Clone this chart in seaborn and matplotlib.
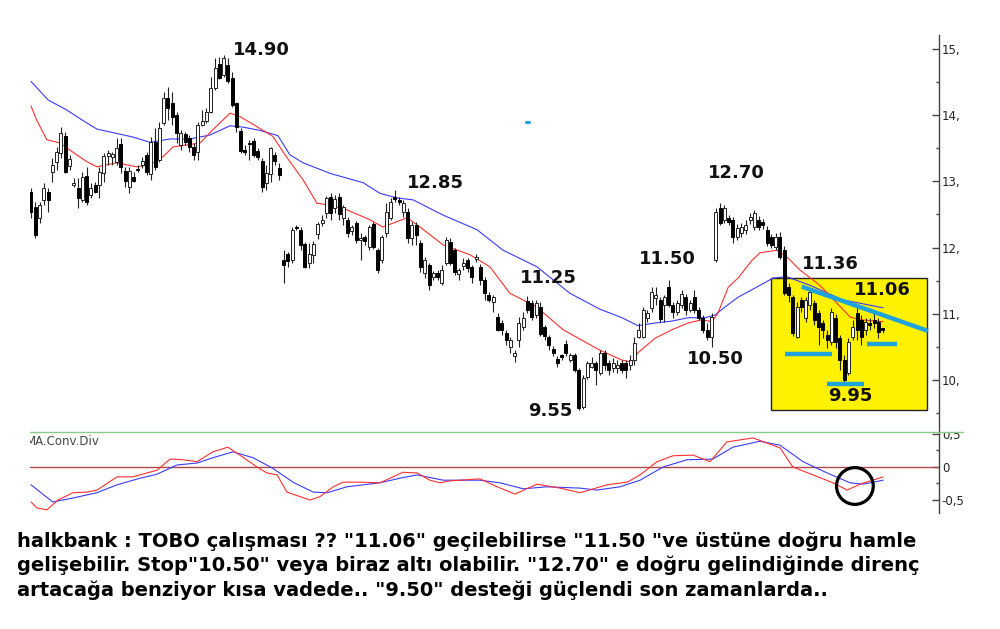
import matplotlib
matplotlib.use("Agg")
import matplotlib.pyplot as plt
from matplotlib.lines import Line2D
from matplotlib.patches import Rectangle
from matplotlib.transforms import Bbox, TransformedBbox
import numpy as np
import seaborn as sns

# daily candles (one value per session)
opens = [12.84, 12.62, 12.45, 12.72, 12.84, 13.14, 13.29, 13.43, 13.69, 13.23,
         12.95, 12.90, 12.72, 13.08, 12.79, 12.95, 12.95, 13.13, 13.38, 13.37,
         13.29, 13.56, 13.16, 12.92, 13.07, 13.18, 13.25, 13.40, 13.11, 13.59,
         13.32, 13.88, 14.26, 14.18, 14.00, 13.55, 13.72, 13.66, 13.52, 13.44,
         13.85, 13.91, 14.05, 14.41, 14.77, 14.61, 14.76, 14.56, 14.18, 13.76,
         13.47, 13.57, 13.61, 13.46, 13.31, 12.98, 13.11, 13.40, 13.20, 11.81,
         11.90, 11.81, 12.30, 12.27, 12.05, 11.77, 11.89, 12.21, 12.37, 12.52,
         12.76, 12.60, 12.76, 12.45, 12.42, 12.25, 12.37, 12.11, 12.16, 12.01,
         12.36, 11.96, 11.81, 12.22, 12.45, 12.75, 12.72, 12.54, 12.54, 12.14,
         12.34, 12.07, 11.62, 11.74, 11.56, 11.62, 11.47, 11.77, 12.08, 11.96,
         11.60, 11.72, 11.81, 11.71, 11.83, 11.71, 11.51, 11.28, 11.18, 10.95,
         10.86, 10.71, 10.50, 10.36, 10.60, 10.80, 11.19, 11.16, 10.98, 11.10,
         10.80, 10.65, 10.47, 10.32, 10.36, 10.54, 10.30, 10.38, 10.15, 9.59,
         10.05, 10.20, 10.26, 10.11, 10.41, 10.26, 10.18, 10.18, 10.26, 10.26,
         10.23, 10.30, 10.65, 10.65, 10.93, 11.09, 11.24, 11.21, 11.13, 11.40,
         11.13, 11.03, 11.13, 11.25, 11.06, 11.25, 11.06, 10.94, 10.76, 10.65,
         11.81, 12.60, 12.42, 12.45, 12.42, 12.16, 12.22, 12.27, 12.42, 12.31,
         12.42, 12.39, 12.27, 12.16, 12.01, 12.16, 11.96, 11.40, 11.25, 10.65,
         11.21, 10.94, 11.13, 11.16, 11.01, 10.86, 10.68, 10.57, 10.94, 10.63,
         10.30, 10.11, 10.65, 11.01, 10.91, 10.76, 10.86, 10.91, 10.88, 10.77]
highs = [12.90, 12.69, 12.69, 12.98, 12.90, 13.35, 13.52, 13.82, 13.75, 13.40,
         13.05, 13.05, 13.14, 13.22, 12.98, 12.99, 13.22, 13.43, 13.47, 13.44,
         13.66, 13.66, 13.22, 13.22, 13.14, 13.25, 13.37, 13.44, 13.67, 13.81,
         13.90, 14.35, 14.43, 14.35, 14.05, 13.78, 13.75, 13.70, 13.58, 13.90,
         14.08, 14.11, 14.58, 14.86, 14.88, 14.91, 14.86, 14.65, 14.20, 13.81,
         13.55, 13.63, 13.66, 13.50, 13.35, 13.25, 13.52, 13.44, 13.28, 11.96,
         11.93, 12.31, 12.34, 12.31, 12.08, 12.07, 12.10, 12.39, 12.49, 12.78,
         12.82, 12.79, 12.82, 12.64, 12.46, 12.34, 12.40, 12.22, 12.19, 12.34,
         12.39, 11.99, 12.19, 12.67, 12.75, 12.87, 12.76, 12.72, 12.60, 12.39,
         12.39, 12.11, 11.86, 11.77, 11.65, 11.66, 11.74, 12.16, 12.14, 11.99,
         11.69, 11.84, 11.84, 11.74, 11.90, 11.75, 11.56, 11.33, 11.28, 11.01,
         10.90, 10.76, 10.65, 10.45, 10.95, 11.03, 11.27, 11.21, 11.21, 11.18,
         10.83, 10.68, 10.51, 10.36, 10.39, 10.60, 10.41, 10.41, 10.18, 10.08,
         10.29, 10.35, 10.29, 10.45, 10.45, 10.30, 10.33, 10.30, 10.30, 10.30,
         10.38, 10.65, 10.86, 11.10, 11.06, 11.40, 11.40, 11.25, 11.28, 11.51,
         11.18, 11.21, 11.36, 11.30, 11.21, 11.36, 11.10, 10.98, 10.86, 11.01,
         12.60, 12.67, 12.64, 12.49, 12.46, 12.36, 12.37, 12.42, 12.52, 12.57,
         12.48, 12.43, 12.33, 12.21, 12.22, 12.24, 12.02, 11.46, 11.28, 11.18,
         11.25, 11.25, 11.39, 11.21, 11.06, 10.91, 10.76, 11.09, 11.00, 10.68,
         10.38, 10.63, 10.91, 11.10, 10.98, 10.94, 10.94, 11.01, 10.94, 10.78]
lows = [12.45, 12.14, 12.37, 12.64, 12.54, 12.99, 13.17, 13.35, 13.12, 13.17,
        12.92, 12.60, 12.69, 12.64, 12.75, 12.82, 12.75, 12.99, 13.25, 13.25,
        13.25, 13.13, 12.92, 12.83, 12.99, 13.14, 13.20, 13.10, 13.02, 13.17,
        13.29, 13.85, 13.93, 13.85, 13.58, 13.47, 13.55, 13.44, 13.32, 13.32,
        13.84, 13.88, 14.03, 14.38, 14.55, 14.58, 14.49, 14.13, 13.75, 13.43,
        13.40, 13.32, 13.37, 13.32, 12.84, 12.87, 12.99, 13.25, 13.02, 11.47,
        11.71, 11.77, 12.27, 11.96, 11.69, 11.69, 11.77, 12.13, 12.33, 12.45,
        12.42, 12.52, 12.42, 12.34, 12.16, 12.19, 12.07, 11.81, 12.04, 11.96,
        11.98, 11.62, 11.77, 12.16, 12.42, 12.69, 12.64, 12.46, 12.07, 12.04,
        12.04, 11.63, 11.54, 11.36, 11.51, 11.51, 11.43, 11.74, 11.74, 11.59,
        11.51, 11.66, 11.63, 11.47, 11.78, 11.43, 11.21, 11.18, 11.03, 10.74,
        10.68, 10.53, 10.41, 10.27, 10.50, 10.76, 11.01, 10.90, 10.93, 10.66,
        10.60, 10.45, 10.36, 10.20, 10.30, 10.36, 10.27, 10.12, 9.55, 9.56,
        10.02, 10.18, 9.92, 10.08, 10.15, 10.08, 10.12, 10.11, 10.11, 10.03,
        10.15, 10.23, 10.63, 10.63, 10.88, 11.03, 11.13, 10.88, 10.88, 11.10,
        10.94, 10.98, 11.09, 10.98, 11.03, 11.01, 10.90, 10.71, 10.60, 10.50,
        11.78, 12.34, 12.37, 12.34, 12.07, 12.11, 12.16, 12.21, 12.36, 12.27,
        12.27, 12.28, 12.02, 11.99, 11.96, 11.83, 11.28, 11.18, 10.66, 10.63,
        11.03, 10.88, 11.06, 10.83, 10.53, 10.63, 10.48, 10.53, 10.48, 10.15,
        9.95, 10.08, 10.60, 10.60, 10.53, 10.68, 10.76, 10.79, 10.63, 10.71]
closes = [12.54, 12.19, 12.64, 12.90, 12.72, 13.25, 13.44, 13.73, 13.14, 13.34,
          12.98, 12.75, 13.07, 12.69, 12.90, 12.84, 13.14, 13.38, 13.43, 13.41,
          13.50, 13.22, 13.01, 13.16, 13.01, 13.17, 13.31, 13.14, 13.59, 13.22,
          13.81, 14.26, 14.11, 13.97, 13.73, 13.73, 13.60, 13.52, 13.40, 13.85,
          13.91, 14.05, 14.41, 14.71, 14.56, 14.86, 14.52, 14.15, 13.82, 13.46,
          13.44, 13.56, 13.40, 13.37, 12.92, 13.13, 13.50, 13.31, 13.10, 11.74,
          11.80, 12.27, 12.29, 12.04, 11.71, 11.90, 12.05, 12.36, 12.42, 12.75,
          12.52, 12.73, 12.51, 12.61, 12.22, 12.31, 12.11, 12.15, 12.10, 12.31,
          12.01, 11.66, 12.16, 12.54, 12.69, 12.74, 12.69, 12.67, 12.14, 12.34,
          12.19, 11.71, 11.81, 11.43, 11.62, 11.56, 11.66, 12.11, 11.77, 11.63,
          11.66, 11.77, 11.69, 11.56, 11.86, 11.51, 11.31, 11.21, 11.25, 10.76,
          10.76, 10.60, 10.60, 10.41, 10.86, 10.94, 11.06, 10.95, 11.16, 10.69,
          10.66, 10.53, 10.41, 10.26, 10.35, 10.41, 10.38, 10.15, 9.58, 10.03,
          10.26, 10.26, 10.15, 10.41, 10.23, 10.15, 10.26, 10.23, 10.15, 10.15,
          10.30, 10.56, 10.76, 11.06, 11.01, 11.33, 11.28, 10.92, 11.25, 11.13,
          11.03, 11.16, 11.30, 11.06, 11.16, 11.06, 10.94, 10.76, 10.65, 10.95,
          12.54, 12.37, 12.60, 12.39, 12.16, 12.30, 12.31, 12.34, 12.46, 12.52,
          12.31, 12.34, 12.07, 12.04, 12.16, 11.86, 11.31, 11.28, 10.71, 11.10,
          11.10, 11.21, 11.33, 10.91, 10.80, 10.76, 10.60, 11.03, 10.57, 10.30,
          10.00, 10.57, 10.80, 10.76, 10.65, 10.88, 10.83, 10.86, 10.73, 10.76]

# moving averages as drawn (session index, price)
ma_fast_idx = [0, 1.3, 3.7, 6.8, 9.8, 13.0, 15.4, 20.0, 24.7, 27.8, 30.8, 33.2, 36.4,
               39.5, 42.5, 46.5, 48.8, 52.7, 56.5, 59.7, 63.6, 66.8, 69.9, 73.8, 79.2,
               82.2, 84.6, 87.9, 90.9, 96.3, 102.6, 107.2, 111.9, 118.2, 124.3, 132.9,
               138.1, 140.4, 141.8, 145.8, 149.8, 153.5, 156.8, 159.1, 160.5, 162.9,
               165.2, 168.5, 170.3, 174.3, 176.6, 179.7, 184.3, 188.3, 191.4, 193.7, 199.1]
ma_fast = [14.14, 13.93, 13.63, 13.58, 13.44, 13.30, 13.22, 13.28, 13.22, 13.25, 13.37,
           13.52, 13.55, 13.58, 13.78, 14.03, 13.98, 13.83, 13.68, 13.37, 13.02, 12.67,
           12.64, 12.57, 12.42, 12.31, 12.37, 12.45, 12.31, 12.04, 11.89, 11.71, 11.31,
           11.10, 10.76, 10.45, 10.30, 10.27, 10.41, 10.63, 10.76, 10.86, 10.91, 10.88,
           11.01, 11.40, 11.54, 11.81, 11.92, 11.96, 11.86, 11.66, 11.43, 11.16, 10.95,
           10.91, 10.88]
ma_slow_idx = [0, 4.0, 8.3, 12.6, 15.4, 19.6, 23.8, 27.8, 32.5, 37.1, 41.8, 46.5, 49.5,
               53.5, 57.7, 60.5, 63.6, 69.9, 77.6, 81.5, 85.5, 89.3, 96.3, 104.2, 110.3,
               118.2, 125.9, 132.9, 138.1, 141.8, 145.8, 149.8, 153.5, 157.5, 159.8,
               162.1, 165.2, 169.2, 173.4, 176.6, 182.0, 189.7, 199.1]
ma_slow = [14.51, 14.23, 14.08, 13.90, 13.79, 13.73, 13.67, 13.59, 13.64, 13.64, 13.70,
           13.84, 13.82, 13.77, 13.69, 13.40, 13.28, 13.12, 12.98, 12.82, 12.75, 12.72,
           12.49, 12.27, 11.96, 11.71, 11.31, 11.07, 10.94, 10.82, 10.86, 10.89, 10.94,
           10.94, 10.98, 11.10, 11.25, 11.39, 11.54, 11.56, 11.43, 11.21, 11.09]

# MACD panel (session index, value)
macd_idx = [0, 1.4, 3.7, 6.3, 9.8, 13.1, 15.4, 20.1, 23.8, 27.1, 29.4, 32.5, 35.5, 38.8,
            42.5, 46.0, 48.8, 52.8, 55.1, 57.5, 59.8, 62.9, 65.2, 67.5, 70.6, 72.9, 76.9,
            81.5, 83.9, 86.9, 90.2, 93.2, 95.6, 97.9, 104.9, 108.9, 113.1, 118.2, 123.6,
            128.3, 134.6, 139.3, 142.3, 146.3, 150.0, 154.7, 158.6, 162.6, 168.7, 175.0,
            178.0, 182.7, 187.4, 190.7, 193.7, 199.1]
macd = [-0.53, -0.62, -0.65, -0.50, -0.39, -0.38, -0.35, -0.15, -0.15, -0.09, -0.05,
        0.12, 0.11, 0.08, 0.23, 0.30, 0.18, 0.00, -0.09, -0.12, -0.38, -0.45, -0.50,
        -0.45, -0.30, -0.23, -0.23, -0.24, -0.17, -0.08, -0.09, -0.20, -0.24, -0.21,
        -0.18, -0.30, -0.41, -0.26, -0.32, -0.39, -0.27, -0.23, -0.12, 0.08, 0.17, 0.18,
        0.08, 0.38, 0.44, 0.29, 0.00, -0.12, -0.24, -0.35, -0.26, -0.15]
signal_idx = [0, 5.1, 9.8, 15.4, 20.1, 25.5, 29.4, 34.1, 38.8, 42.5, 47.2, 51.9, 56.5,
              61.2, 65.9, 69.2, 73.8, 81.5, 86.2, 90.2, 96.3, 104.9, 109.6, 115.0, 120.6,
              128.3, 132.2, 137.6, 142.3, 147.7, 153.3, 159.3, 164.0, 170.3, 175.0, 180.4,
              186.0, 191.4, 194.4, 199.1]
signal = [-0.27, -0.53, -0.47, -0.39, -0.27, -0.17, -0.11, 0.03, 0.06, 0.14, 0.23, 0.14,
          -0.02, -0.23, -0.38, -0.39, -0.30, -0.24, -0.17, -0.12, -0.20, -0.20, -0.24,
          -0.33, -0.30, -0.32, -0.35, -0.30, -0.20, 0.00, 0.11, 0.12, 0.30, 0.39, 0.33,
          0.08, -0.09, -0.24, -0.26, -0.20]

price_ticks = [10, 11, 12, 13, 14, 15]
price_labels = ["10,", "11,", "12,", "13,", "14,", "15,"]
macd_ticks = [-0.5, 0, 0.5]
macd_labels = ["-0,5", "0", "0,5"]

# hand drawn notes on the chart
peak_labels = ["14.90", "12.85", "11.25", "9.55", "11.50", "12.70", "10.50", "11.36", "11.06", "9.95"]
peak_x = [53.9, 94.6, 120.9, 121.4, 148.8, 164.8, 159.8, 186.7, 198.9, 191.5]
peak_y = [14.99, 12.98, 11.54, 9.53, 11.83, 13.13, 10.32, 11.75, 11.36, 9.76]
box_x = [172.9, 209.3]
box_y = [9.547, 11.541]
trend_x = [180.1, 209.6]
trend_y = [11.41, 10.74]
support_x0 = [176.2, 186.0, 195.3]
support_x1 = [187.1, 194.6, 202.4]
support_y = [10.39, 9.935, 10.544]
circle_x, circle_y = 192.5, -0.288

comment_lines = [
    'halkbank : TOBO çalışması ?? "11.06" geçilebilirse "11.50 "ve üstüne doğru hamle',
    'gelişebilir. Stop"10.50" veya biraz altı olabilir. "12.70" e doğru gelindiğinde direnç',
    'artacağa benziyor kısa vadede.. "9.50" desteği güçlendi son zamanlarda..',
]

sns.set_style("white")
plt.rcParams["font.family"] = ["DejaVu Sans"]

W, H = 1000, 629
fig = plt.figure(figsize=(10, 6.29), dpi=100)
ax = fig.add_axes([30 / W, 1 - 432 / H, 909 / W, 397 / H])
ax2 = fig.add_axes([30 / W, 1 - 513 / H, 909 / W, 81 / H], sharex=ax)

AX_COL = "#444444"
for a in (ax, ax2):
    a.set_facecolor("white")
    for side in ("left", "top", "bottom"):
        a.spines[side].set_visible(False)
    a.spines["right"].set_color(AX_COL)
    a.spines["right"].set_linewidth(1)
    a.yaxis.tick_right()
    a.tick_params(axis="y", which="major", direction="in", length=5, width=1,
                  color=AX_COL, pad=2, labelsize=8.5, labelcolor="#222222")
    a.tick_params(axis="y", which="minor", direction="in", length=2.5, width=1, color=AX_COL)
    a.tick_params(axis="x", which="both", bottom=False, labelbottom=False)
    a.grid(False)

ax.set_xlim(-0.23, 212.15)
ax.set_ylim(9.214, 15.211)
ax.set_yticks(price_ticks, price_labels)
ax.set_yticks([9.5, 10.5, 11.5, 12.5, 13.5, 14.5], minor=True)

# annotation box behind everything
ax.add_patch(Rectangle((box_x[0], box_y[0]), box_x[1] - box_x[0], box_y[1] - box_y[0],
                       facecolor="#fff200", edgecolor="#222222", linewidth=1, zorder=1))

sns.lineplot(x=ma_slow_idx, y=ma_slow, ax=ax, color="#3a3aff", linewidth=0.8, zorder=2)
sns.lineplot(x=ma_fast_idx, y=ma_fast, ax=ax, color="#ff3030", linewidth=0.8, zorder=2)

# candles
o = np.array(opens)
c = np.array(closes)
idx = np.arange(len(o))
up = c >= o
lo = np.minimum(o, c)
hgt = np.maximum(np.abs(c - o), 0.02)
ax.vlines(idx, lows, highs, colors="#222222", linewidth=0.8, zorder=3)
ax.bar(idx[up], hgt[up], bottom=lo[up], width=0.7, color="white",
       edgecolor="#222222", linewidth=0.7, zorder=4)
ax.bar(idx[~up], hgt[~up], bottom=lo[~up], width=0.7, color="black",
       edgecolor="black", linewidth=0.7, zorder=4)

CYAN = "#1ea3dc"
ax.plot(trend_x, trend_y, color=CYAN, linewidth=3.2, solid_capstyle="butt", zorder=5)
for x0, x1, y in zip(support_x0, support_x1, support_y):
    ax.plot([x0, x1], [y, y], color=CYAN, linewidth=3.2, solid_capstyle="butt", zorder=5)
ax.plot([115.6, 116.3], [13.90, 13.90], color=CYAN, linewidth=2.2, zorder=5)

for t, x, y in zip(peak_labels, peak_x, peak_y):
    ax.text(x, y, t, ha="center", va="center", fontsize=13, fontweight="bold",
            color="#111111", zorder=6)

# MACD panel
ax2.set_ylim(-0.697, 0.530)
ax2.axhline(0, color="#b04848", linewidth=1, zorder=1)
sns.lineplot(x=signal_idx, y=signal, ax=ax2, color="#3a3aff", linewidth=0.8, zorder=2)
sns.lineplot(x=macd_idx, y=macd, ax=ax2, color="#ff3030", linewidth=0.8, zorder=3)
ax2.scatter([circle_x], [circle_y], s=700, facecolors="none", edgecolors="black",
            linewidths=2.3, zorder=4)
ax2.set_yticks(macd_ticks, macd_labels)
ax2.set_yticks([-0.25, 0.25], minor=True)
ax2.set_ylabel("")
ax.set_ylabel("")
ax2.text(-0.004, 0.885, "MA.Conv.Div", transform=ax2.transAxes, fontsize=8.5,
         color="#444444", ha="left", va="center", clip_on=True)

clip = TransformedBbox(Bbox([[0, 0], [1, 1 - 432 / H]]), fig.transFigure)
for lab in ax2.get_yticklabels():
    lab.set_clip_box(clip)
    lab.set_clip_on(True)

fig.add_artist(Line2D([30 / W, 963 / W], [1 - 432 / H] * 2, transform=fig.transFigure,
                      color="#86cc86", linewidth=1))

for k, line in enumerate(comment_lines):
    fig.text(17 / W, 1 - (541 + 24.5 * k) / H, line, ha="left", va="center",
             fontsize=14, fontweight="bold", color="black")

fig.savefig("out.png", dpi=100, facecolor="white")
